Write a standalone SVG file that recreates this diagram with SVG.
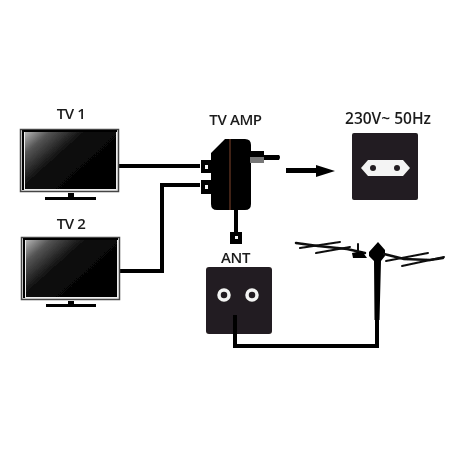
<svg xmlns="http://www.w3.org/2000/svg" width="458" height="458" viewBox="0 0 458 458">
<defs>
<linearGradient id="scr" x1="0" y1="0" x2="1" y2="0.7">
<stop offset="0" stop-color="#b5b5b5"/><stop offset="0.18" stop-color="#555"/><stop offset="0.45" stop-color="#0c0c0c"/><stop offset="1" stop-color="#000"/>
</linearGradient>
<filter id="soft" x="-5%" y="-5%" width="110%" height="110%"><feGaussianBlur stdDeviation="0.5"/></filter>
</defs>
<style>
.bezel{fill:#eee;stroke:#444;stroke-width:1.5}
.screen{fill:url(#scr)}
.k{fill:#000}
.dark{fill:#231f20}
.w{fill:#f4f4f4}
.cable{fill:none;stroke:#050505;stroke-width:4}
.ant{fill:none;stroke:#111;stroke-linecap:round}
text{font-family:"Open Sans","Liberation Sans",sans-serif;font-weight:600;font-size:15px;letter-spacing:-0.4px;fill:#1a1a1a;text-anchor:middle}
.wide{font-size:15.500px;letter-spacing:0}
</style>
<rect width="458" height="458" fill="#fff"/>
<g filter="url(#soft)">
<g id="connectors">
<path class="cable" d="M119 166H200"/>
<path class="cable" d="M120 271H162V185H200"/>
<path class="cable" d="M236 208V234"/>
<path class="cable" d="M235 315V346H377V250"/>
</g>
<g id="tv1">
<rect class="bezel" x="20.500" y="129.500" width="98" height="62"/>
<rect class="k" x="22" y="130" width="95" height="2"/>
<rect class="k" x="22" y="130" width="2" height="60"/>
<rect class="screen" x="25" y="132" width="91" height="57"/>
<rect class="k" x="68" y="193" width="6" height="5"/>
<rect class="k" x="45" y="197" width="51" height="3"/>
<text x="71" y="119">TV 1</text>
</g>
<g id="tv2">
<rect class="bezel" x="21.500" y="237.500" width="98" height="62"/>
<rect class="k" x="23" y="238" width="95" height="2"/>
<rect class="k" x="23" y="238" width="2" height="60"/>
<rect class="screen" x="26" y="240" width="91" height="57"/>
<rect class="k" x="68" y="301" width="6" height="4"/>
<rect class="k" x="46" y="304" width="50" height="3"/>
<text x="71" y="229">TV 2</text>
</g>
<g id="tv-amp">
<path class="k" d="M225 139H245Q251 139 251 145V151H264V155H279Q281 157 279 160H264V163H251V204Q251 210 245 210H217Q211 210 211 204V194H201V180H211V173H201V160H211V153Z"/>
<rect x="250" y="157" width="14" height="6" fill="#777"/>
<rect class="w" x="205" y="165" width="3" height="4"/>
<rect class="w" x="205" y="185" width="3" height="4"/>
<path d="M230 139V210" stroke="#b5623c" stroke-width="0.7"/>
<text x="235.500" y="125">TV AMP</text>
</g>
<g id="arrow">
<path class="k" d="M286 168H316V165L335 171L316 177V173H286Z"/>
</g>
<g id="mains">
<rect class="dark" x="352" y="133" width="66" height="67" rx="2"/>
<path class="w" d="M368 160H403L410 168L403 176H368L361 168Z"/>
<circle class="dark" cx="373" cy="168" r="3"/>
<circle class="dark" cx="397" cy="168" r="3"/>
<text class="wide" x="388" y="124">230V~ 50Hz</text>
</g>
<g id="ant-port">
<rect class="k" x="230" y="232" width="12" height="12"/>
<rect class="w" x="235" y="236" width="3" height="3"/>
</g>
<g id="ant-socket">
<rect class="dark" x="206" y="267" width="66" height="67" rx="3"/>
<circle cx="224" cy="295" r="5" fill="#231f20" stroke="#f4f4f4" stroke-width="3.500"/>
<circle cx="252" cy="295" r="5" fill="#231f20" stroke="#f4f4f4" stroke-width="3.500"/>
<path class="cable" d="M235 315V336"/>
<text x="235.500" y="263">ANT</text>
</g>
<g id="antenna">
<path class="ant" stroke-width="2.500" d="M296 243L318 246L347 249L365 253"/>
<path class="ant" stroke-width="2" d="M300 248L340 242M316 253L350 247M358 244V255"/>
<path class="k" d="M352 253L362 251L367 258H353Z"/>
<path class="k" d="M378 242L385 250L385 256L381 261L379.500 320L374.500 320L374 261L369 256L369 252Z"/>
<path class="ant" stroke-width="2.500" d="M384 254L404 259L430 260L443 258"/>
<path class="ant" stroke-width="2" d="M386 261L428 253M402 266L444 257"/>
</g>
</g>
</svg>
